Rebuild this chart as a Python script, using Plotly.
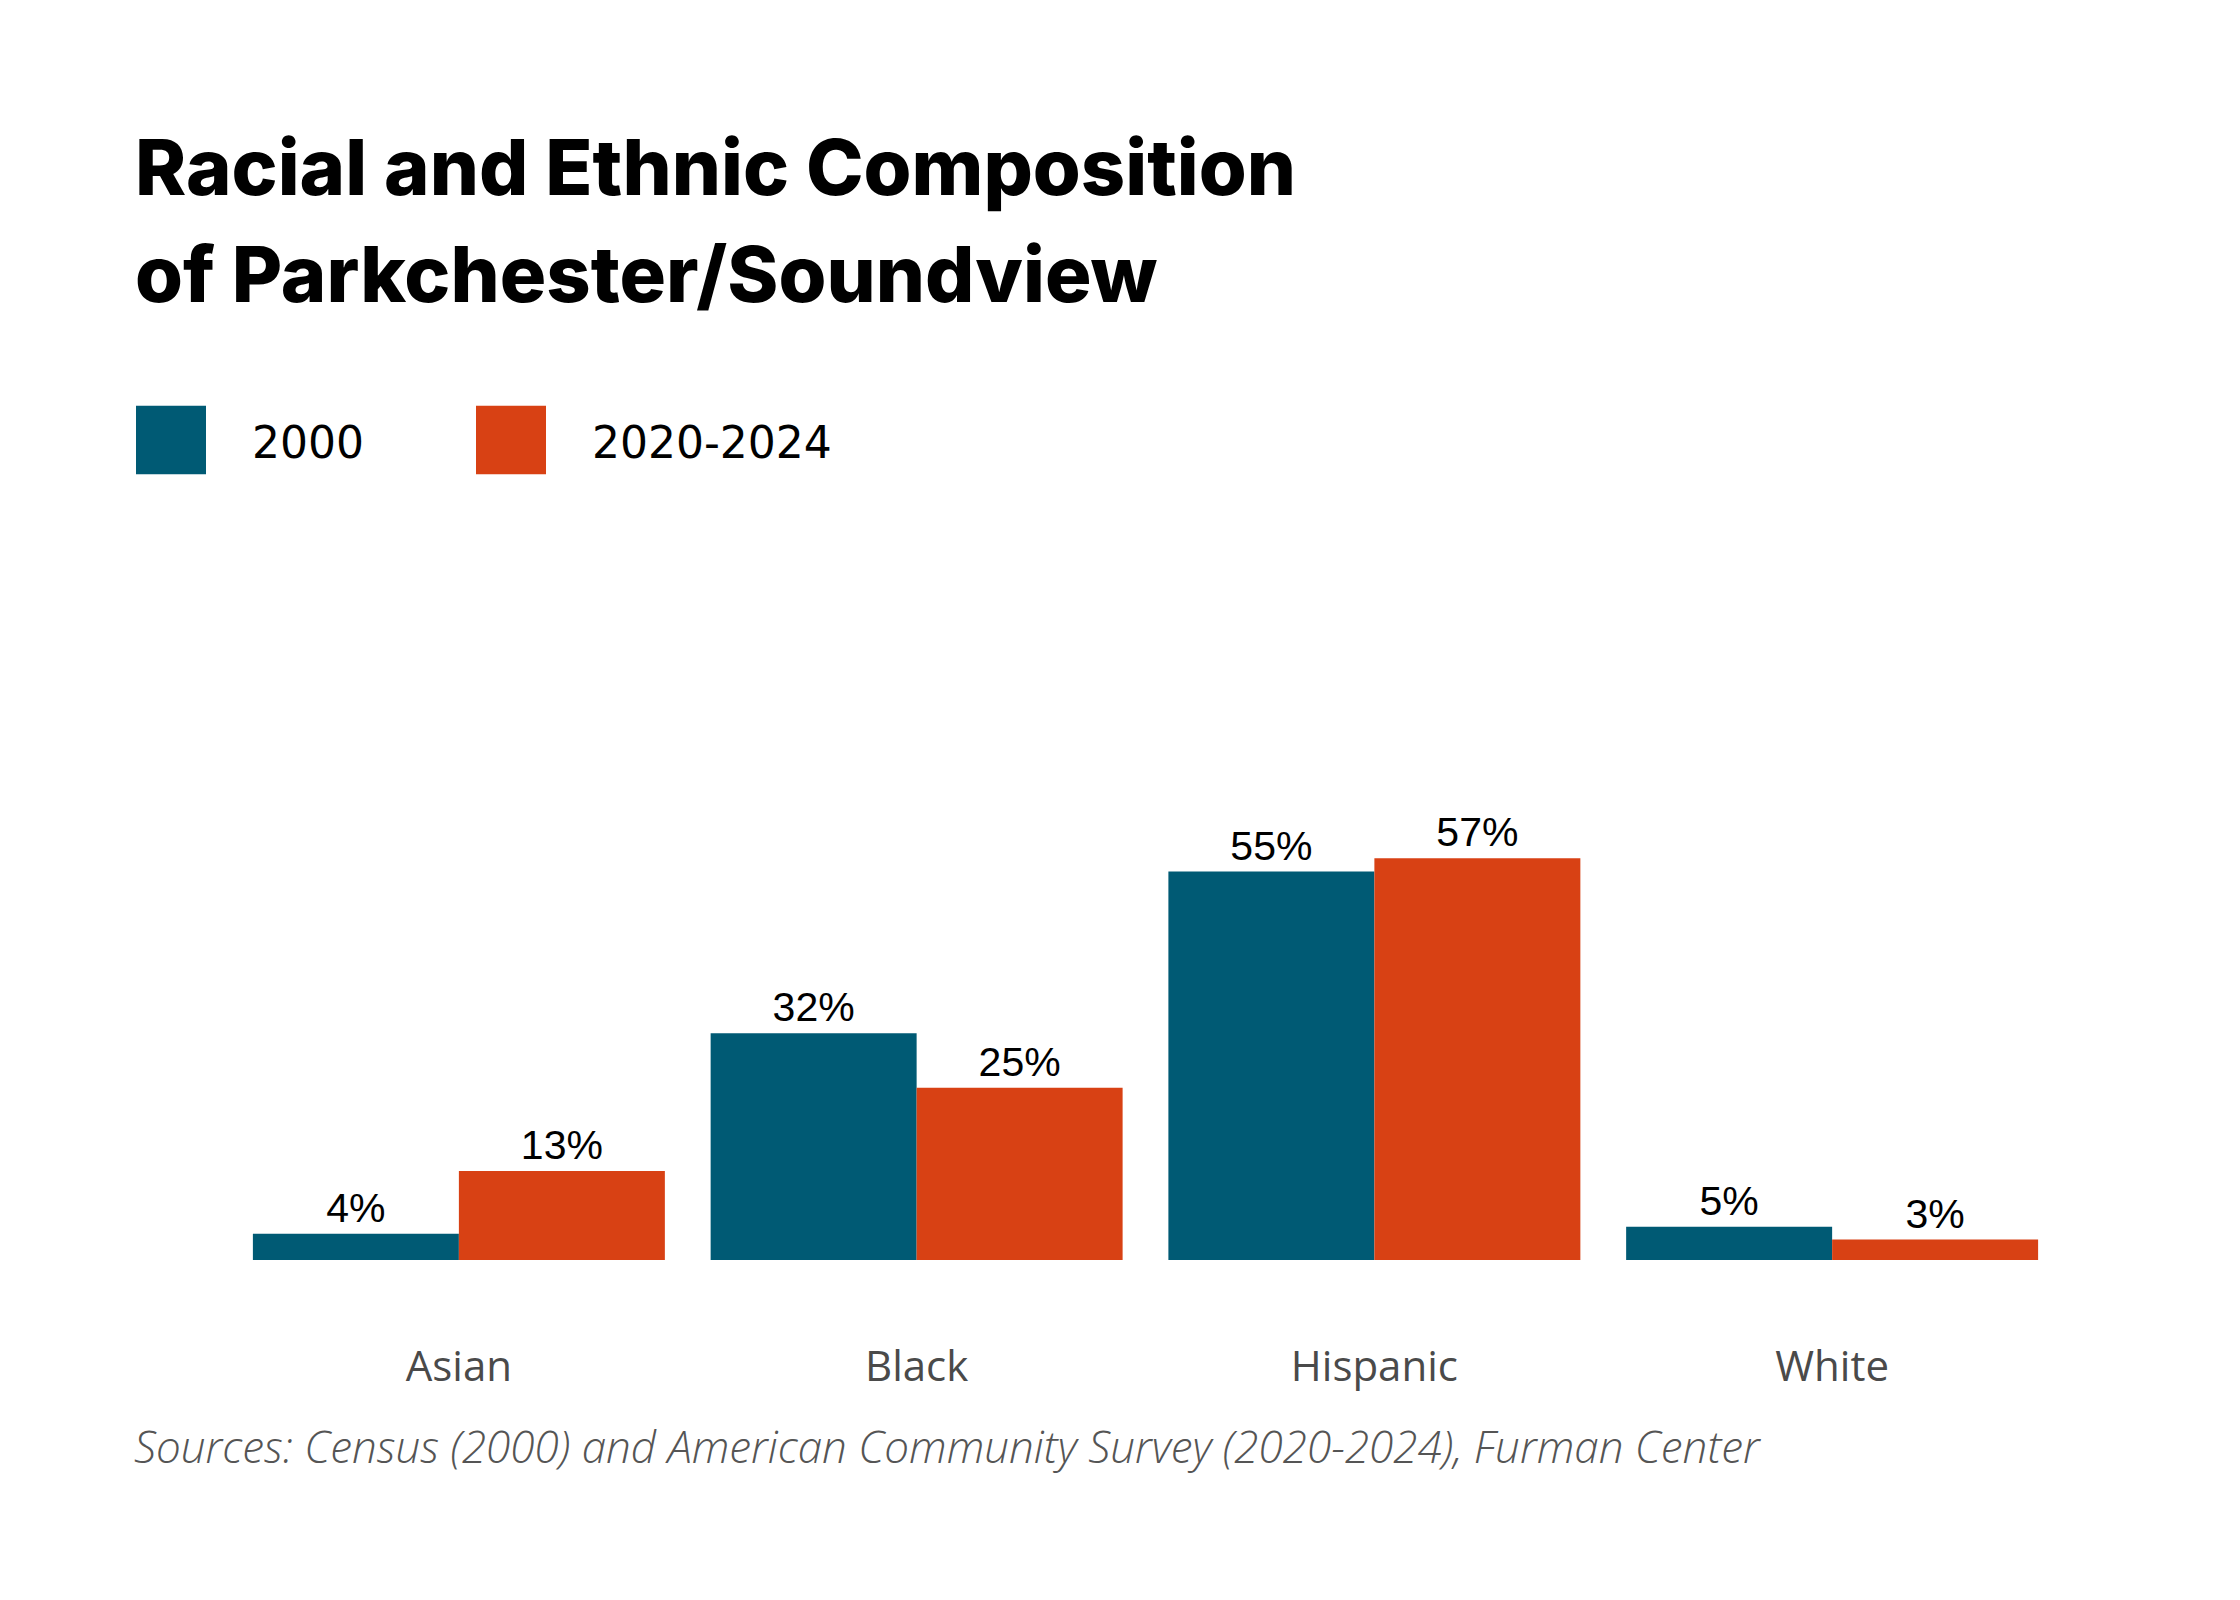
import plotly.graph_objects as go

categories = ["Asian", "Black", "Hispanic", "White"]
values_2000 = [3.7, 32.1, 55.0, 4.7]
values_2020 = [12.6, 24.4, 56.9, 2.9]
labels_2000 = ["4%", "32%", "55%", "5%"]
labels_2020 = ["13%", "25%", "57%", "3%"]
series_names = ["2000", "2020-2024"]
colors = ["#005a74", "#d84114"]
title_lines = ["Racial and Ethnic Composition", "of Parkchester/Soundview"]
source_text = "Sources: Census (2000) and American Community Survey (2020-2024), Furman Center"

W, H = 2240, 1600
L, B = 230, 340
PW = 1831
R = W - L - PW
YMAX = 80
PX_PER_UNIT = 7.06
PH = YMAX * PX_PER_UNIT
T = H - B - PH


def xp(px):
    return (px - L) / PW


def yp(py):
    return (H - B - py) / PH


fig = go.Figure()
for name, vals, labs, col in [
    (series_names[0], values_2000, labels_2000, colors[0]),
    (series_names[1], values_2020, labels_2020, colors[1]),
]:
    fig.add_trace(go.Bar(
        x=categories, y=vals, name=name, marker=dict(color=col, line=dict(width=0)),
        text=labs, textposition="outside", cliponaxis=False,
        textfont=dict(family="Liberation Sans, Arial", size=41, color="#000000"),
        hoverinfo="skip",
    ))

annotations = []
title_centers = [167, 274]
for line, cy in zip(title_lines, title_centers):
    annotations.append(dict(
        text=line, x=xp(133), y=yp(cy), xref="paper", yref="paper",
        xanchor="left", yanchor="middle", showarrow=False,
        font=dict(family="Inter", size=77.5, color="#000000", weight=800),
    ))

legend_pos = [(136, 206, 250), (476, 546, 590)]
shapes = []
for (x0, x1, tx), name, col in zip(legend_pos, series_names, colors):
    shapes.append(dict(type="rect", xref="paper", yref="paper",
                       x0=xp(x0), x1=xp(x1), y0=yp(474.5), y1=yp(406),
                       fillcolor=col, line=dict(width=0)))
    annotations.append(dict(
        text=name, x=xp(tx), y=yp(443), xref="paper", yref="paper",
        xanchor="left", yanchor="middle", showarrow=False,
        font=dict(family="DejaVu Sans", size=44, color="#000000"),
    ))

annotations.append(dict(
    text=source_text, x=xp(132), y=yp(1446), xref="paper", yref="paper",
    xanchor="left", yanchor="middle", showarrow=False,
    font=dict(family="Open Sans", size=44, color="#555555", style="italic", weight=300),
))

fig.update_layout(
    width=W, height=H,
    margin=dict(l=L, r=R, t=T, b=B, pad=0),
    paper_bgcolor="white", plot_bgcolor="white",
    barmode="group", bargap=0.1, bargroupgap=0,
    showlegend=False,
    annotations=annotations, shapes=shapes,
    xaxis=dict(showgrid=False, showline=False, zeroline=False, ticks="",
               tickfont=dict(family="Open Sans", size=42, color="#4a4a4a"),
               ticklabelstandoff=78, fixedrange=True),
    yaxis=dict(range=[0, YMAX], visible=False, fixedrange=True),
)

fig.write_html("out.html", config={"displayModeBar": False},
               post_script="document.body.style.margin='0';")
